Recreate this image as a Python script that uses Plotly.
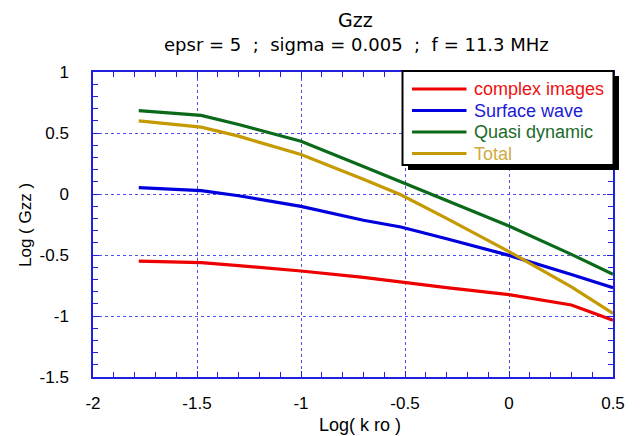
import plotly.graph_objects as go

# Data
log_kro = [-1.78, -1.48, -1.30, -1.00, -0.70, -0.52, -0.30, 0.00, 0.30, 0.50]
complex_images = [-0.551, -0.562, -0.587, -0.631, -0.683, -0.724, -0.768, -0.825, -0.910, -1.034]
surface_wave = [0.052, 0.027, -0.014, -0.102, -0.215, -0.270, -0.367, -0.503, -0.660, -0.768]
quasi_dynamic = [0.683, 0.644, 0.570, 0.433, 0.225, 0.100, -0.051, -0.262, -0.495, -0.658]
total = [0.600, 0.548, 0.474, 0.323, 0.120, -0.006, -0.200, -0.472, -0.762, -0.979]

x_tickvals = [-2, -1.5, -1, -0.5, 0, 0.5]
x_ticktext = ["-2", "-1.5", "-1", "-0.5", "0", "0.5"]
y_tickvals = [-1.5, -1, -0.5, 0, 0.5, 1]
y_ticktext = ["-1.5", "-1", "-0.5", "0", "0.5", "1"]

series_names = ["complex images", "Surface wave", "Quasi dynamic", "Total"]
series_values = [complex_images, surface_wave, quasi_dynamic, total]
line_colors = ["#ee0000", "#0000dd", "#0a6a1a", "#c49a00"]
legend_text_colors = ["#ee1111", "#1a1ad8", "#1a6a2a", "#d0aa40"]

FONT = "DejaVu Sans, sans-serif"
LFONT = "Liberation Sans, Arial, sans-serif"
AXC = "#2020e0"

W, H = 640, 436
ML, MR, MT, MB = 93, 27, 72, 59
PW, PH = W - ML - MR, H - MT - MB


def px_x(px):
    return (px - ML) / PW


def px_y(py):
    return (H - MB - py) / PH


fig = go.Figure()
for name, vals, col in zip(series_names, series_values, line_colors):
    fig.add_trace(go.Scatter(
        x=log_kro, y=vals, mode="lines", name=name,
        line=dict(color=col, width=3.2), showlegend=False,
    ))

axis_common = dict(
    showline=True, linecolor=AXC, linewidth=1.5, mirror="allticks",
    ticks="inside", ticklen=6, tickcolor=AXC, tickwidth=1,
    showgrid=True, gridcolor="#5050f0", griddash="dot", gridwidth=1,
    zeroline=False, automargin=False,
    tickfont=dict(family=LFONT, size=17, color="black"),
    minor=dict(ticks="inside", ticklen=5, tickcolor=AXC, dtick=0.1, showgrid=False),
)

fig.update_layout(
    width=W, height=H,
    margin=dict(l=ML, r=MR, t=MT, b=MB),
    paper_bgcolor="white", plot_bgcolor="white",
    font=dict(family=LFONT, size=17, color="black"),
    xaxis=dict(range=[-2, 0.5], tickmode="array", tickvals=x_tickvals, ticktext=x_ticktext,
               ticklabelstandoff=10, **axis_common),
    yaxis=dict(range=[-1.5, 1], tickmode="array", tickvals=y_tickvals, ticktext=y_ticktext,
               ticklabelstandoff=19, **axis_common),
    showlegend=False,
)

annos = [
    dict(text="Gzz", x=px_x(355), y=px_y(20), size=19, angle=0, fam=FONT),
    dict(text="epsr = 5  ;  sigma = 0.005  ;  f = 11.3 MHz", x=px_x(356), y=px_y(44), size=18, angle=0, fam=FONT),
    dict(text="Log( k ro )", x=px_x(360), y=px_y(425), size=18, angle=0, fam=LFONT),
    dict(text="Log ( Gzz )", x=px_x(25), y=px_y(225), size=17, angle=-90, fam=LFONT),
]
for a in annos:
    fig.add_annotation(text=a["text"], x=a["x"], y=a["y"], xref="paper", yref="paper",
                       xanchor="center", yanchor="middle", showarrow=False, textangle=a["angle"],
                       font=dict(family=a["fam"], size=a["size"], color="black"))

# Legend box with drop shadow
fig.add_shape(type="rect", xref="paper", yref="paper",
              x0=px_x(408), x1=px_x(619), y0=px_y(170), y1=px_y(76),
              fillcolor="black", line=dict(width=0), layer="above")
fig.add_shape(type="rect", xref="paper", yref="paper",
              x0=px_x(402.5), x1=px_x(613.5), y0=px_y(165), y1=px_y(71),
              fillcolor="white", line=dict(color="black", width=2), layer="above")
legend_rows = [89, 110.5, 132, 153.5]
for name, col, tcol, ry in zip(series_names, line_colors, legend_text_colors, legend_rows):
    fig.add_shape(type="line", xref="paper", yref="paper",
                  x0=px_x(412), x1=px_x(466.5), y0=px_y(ry), y1=px_y(ry),
                  line=dict(color=col, width=3), layer="above")
    fig.add_annotation(text=name, x=px_x(472), y=px_y(ry), xref="paper", yref="paper",
                       xanchor="left", yanchor="middle", showarrow=False,
                       font=dict(family=LFONT, size=18, color=tcol))

fig.write_html("out.html")
